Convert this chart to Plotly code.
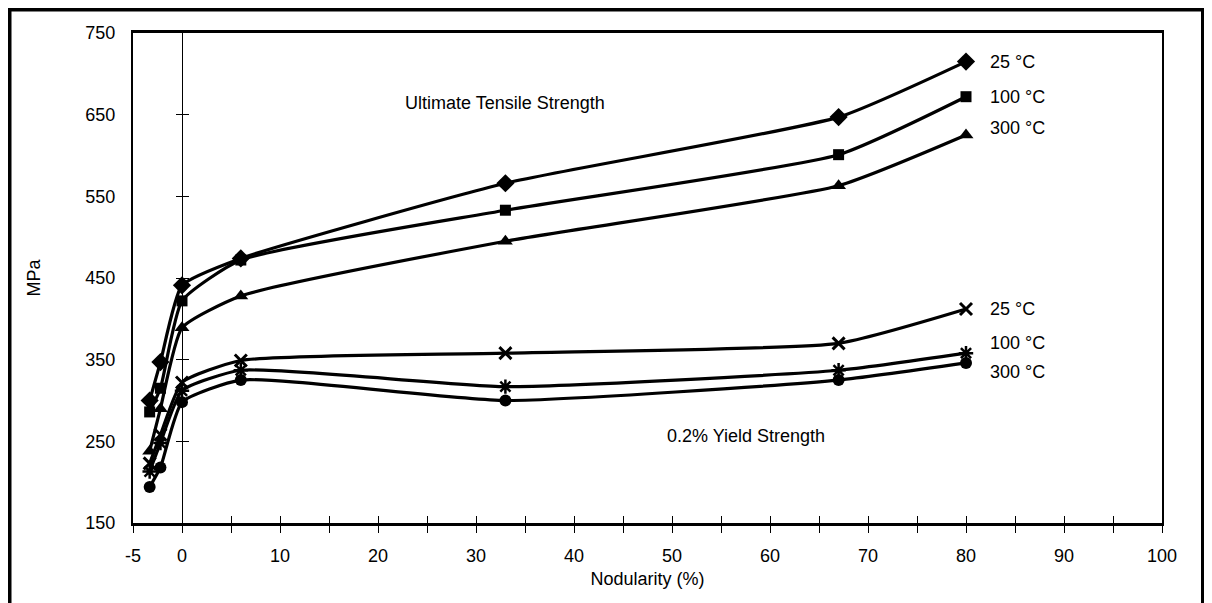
import plotly.graph_objects as go

# ---- data ----
nodularity = [-3.3, -2.2, 0, 6, 33, 67, 80]
uts_25 = [300, 347, 441, 474, 566, 647, 715]
uts_100 = [286, 315, 422, 472, 533, 601, 672]
uts_300 = [238, 290, 389, 428, 495, 563, 625]
ys_25 = [223, 258, 322, 349, 358, 370, 412]
ys_100 = [213, 248, 312, 337, 317, 337, 358]
ys_300 = [194, 218, 298, 325, 300, 325, 346]

series_labels = ["25 °C", "100 °C", "300 °C", "25 °C", "100 °C", "300 °C"]
x_tick_vals = list(range(-5, 101, 5))
x_tick_text = [str(v) if (v % 10 == 0 or v == -5) else "" for v in x_tick_vals]
y_tick_vals = [150, 250, 350, 450, 550, 650, 750]
y_cross_ticks = [250, 350, 450, 550, 650]

FONT = "Liberation Sans, Arial, sans-serif"
FS = 18

# figure geometry (page has an 8px body margin)
W, H = 1197, 595
L, T = 125, 25
PW, PH = 1029, 490

fig = go.Figure()

series = [
    (uts_25, "diamond", 14, 0),
    (uts_100, "square", 11, 0),
    (uts_300, "triangle-up", 13, 0),
    (ys_25, "x-thin", 12, 3),
    (ys_100, "asterisk", 12, 2.5),
    (ys_300, "circle", 12, 0),
]
for vals, sym, size, lw in series:
    fig.add_trace(go.Scatter(
        x=nodularity, y=vals, mode="lines+markers",
        line=dict(color="black", width=3.2, shape="spline", smoothing=0.5),
        marker=dict(symbol=sym, size=size, color="black",
                    line=dict(color="black", width=lw)),
        showlegend=False, hoverinfo="skip",
    ))

# invisible traces to bind helper axes
fig.add_trace(go.Scatter(x=[-5], y=[150], xaxis="x2", yaxis="y2", mode="markers",
                         marker=dict(opacity=0), showlegend=False, hoverinfo="skip"))
fig.add_trace(go.Scatter(x=[-5], y=[150], xaxis="x2", yaxis="y3", mode="markers",
                         marker=dict(opacity=0), showlegend=False, hoverinfo="skip"))

# series end labels
ends = [uts_25, uts_100, uts_300, ys_25, ys_100, ys_300]
yshifts = [0, 0, 7, 0, 10, -9]
annotations = []
for lab, vals, ys in zip(series_labels, ends, yshifts):
    annotations.append(dict(x=nodularity[-1], y=vals[-1], xref="x", yref="y",
                            text=lab, showarrow=False, xanchor="left",
                            xshift=22, yshift=ys,
                            font=dict(family=FONT, size=FS, color="black")))
annotations.append(dict(x=33, y=664, xref="x", yref="y", text="Ultimate Tensile Strength",
                        showarrow=False, font=dict(family=FONT, size=FS, color="black")))
annotations.append(dict(x=57.5, y=256, xref="x", yref="y", text="0.2% Yield Strength",
                        showarrow=False, font=dict(family=FONT, size=FS, color="black")))

fig.update_layout(
    width=W, height=H,
    margin=dict(l=L, r=W - L - PW, t=T, b=H - T - PH, autoexpand=False),
    paper_bgcolor="white", plot_bgcolor="white",
    font=dict(family=FONT, size=FS, color="black"),
    xaxis=dict(range=[-5, 100], tickvals=x_tick_vals, ticktext=x_tick_text,
               ticks="outside", ticklen=7, tickwidth=1, tickcolor="black",
               ticklabelstandoff=8,
               showline=True, linewidth=2.5, linecolor="black", mirror=True,
               showgrid=False, zeroline=False,
               title=dict(text="Nodularity (%)", standoff=8,
                          font=dict(family=FONT, size=FS))),
    xaxis2=dict(range=[-5, 100], overlaying="x", anchor="y", side="bottom",
                tickvals=x_tick_vals, ticks="inside", ticklen=7, tickwidth=1,
                tickcolor="black", showticklabels=False, showline=False,
                showgrid=False, zeroline=False),
    yaxis=dict(range=[150, 750], tickvals=y_tick_vals,
               ticks="outside", ticklen=12, tickcolor="rgba(0,0,0,0)",
               showline=True, linewidth=2, linecolor="black", mirror=True,
               showgrid=False, zeroline=False,
               title=dict(text="MPa", standoff=40, font=dict(family=FONT, size=FS))),
    yaxis2=dict(range=[150, 750], overlaying="y", anchor="free", side="left",
                position=5 / 105, tickvals=y_cross_ticks, ticks="outside", ticklen=6,
                tickwidth=1, tickcolor="black", showticklabels=False,
                showline=True, linewidth=1, linecolor="black",
                showgrid=False, zeroline=False),
    yaxis3=dict(range=[150, 750], overlaying="y", anchor="free", side="left",
                position=5 / 105, tickvals=y_cross_ticks, ticks="inside", ticklen=6,
                tickwidth=1, tickcolor="black", showticklabels=False,
                showline=False, showgrid=False, zeroline=False),
    annotations=annotations,
    shapes=[dict(type="rect", xref="paper", yref="paper",
                 x0=(1.5 - L) / PW, x1=(1195 - L) / PW,
                 y0=-(605 - T - PH) / PH, y1=1 + (T - 1.5) / PH,
                 line=dict(color="black", width=4), fillcolor="rgba(0,0,0,0)",
                 layer="below")],
)

fig.write_html("out.html")
